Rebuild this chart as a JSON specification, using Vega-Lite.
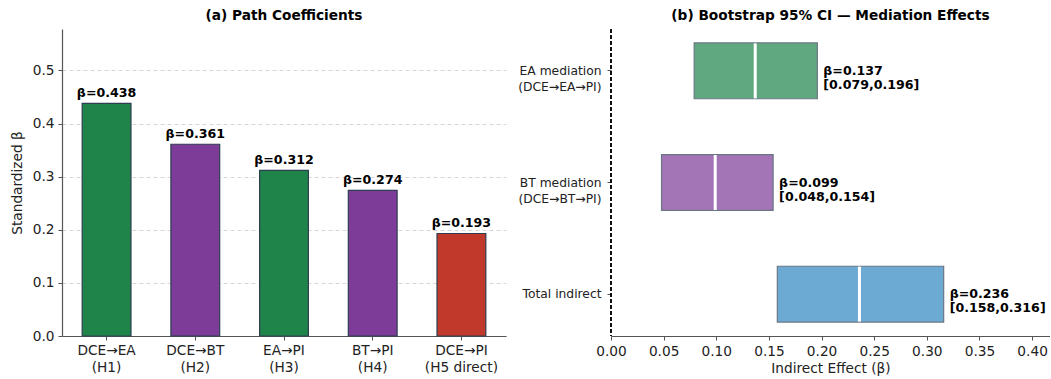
{
  "$schema": "https://vega.github.io/schema/vega-lite/v6.json",
  "background": "white",
  "padding": {"left": 10, "top": 8, "right": 0, "bottom": 0},
  "spacing": 11,
  "resolve": {"scale": {"color": "independent"}},
  "config": {
    "font": "DejaVu Sans",
    "view": {"stroke": null},
    "axis": {
      "labelFont": "DejaVu Sans", "labelFontSize": 13.7, "labelColor": "#222", "labelFlush": false,
      "titleFont": "DejaVu Sans", "titleFontSize": 13.7, "titleFontWeight": "normal", "titleColor": "#222",
      "domainColor": "#555", "domainWidth": 1.2, "tickColor": "#555", "tickSize": 4, "tickWidth": 1, "labelPadding": 4, "grid": false
    },
    "title": {"font": "DejaVu Sans", "fontSize": 13.7, "fontWeight": "bold", "color": "#000", "anchor": "middle", "offset": 6}
  },
  "hconcat": [
    {
      "title": "(a) Path Coefficients",
      "width": 444,
      "height": 307,
      "data": {"values": [
        {"path": "DCE→EA|(H1)", "beta": 0.438, "group": "EA", "lbl": "β=0.438"},
        {"path": "DCE→BT|(H2)", "beta": 0.361, "group": "BT", "lbl": "β=0.361"},
        {"path": "EA→PI|(H3)", "beta": 0.312, "group": "EA", "lbl": "β=0.312"},
        {"path": "BT→PI|(H4)", "beta": 0.274, "group": "BT", "lbl": "β=0.274"},
        {"path": "DCE→PI|(H5 direct)", "beta": 0.193, "group": "Direct", "lbl": "β=0.193"}
      ]},
      "encoding": {
        "x": {"field": "path", "type": "nominal", "sort": null,
          "scale": {"paddingInner": 0.45, "paddingOuter": 0.2275},
          "axis": {"title": null, "labelAngle": 0, "labelExpr": "split(datum.label, '|')", "labelLineHeight": 17, "labelPadding": 3}},
        "y": {"field": "beta", "type": "quantitative",
          "scale": {"domain": [0, 0.578], "nice": false, "zero": true},
          "axis": {"title": "Standardized β", "values": [0, 0.1, 0.2, 0.3, 0.4, 0.5], "format": ".1f",
            "grid": true, "gridDash": [4, 3], "gridColor": "#cccccc", "gridWidth": 0.8, "titlePadding": 8}}
      },
      "layer": [
        {"mark": {"type": "bar", "stroke": "#2c3e50", "strokeWidth": 1.2},
          "encoding": {"color": {"field": "group", "type": "nominal",
            "scale": {"domain": ["EA", "BT", "Direct"], "range": ["#1E8449", "#7D3C98", "#C0392B"]}, "legend": null}}},
        {"mark": {"type": "text", "baseline": "alphabetic", "dy": -6, "fontWeight": "bold", "fontSize": 12.6, "color": "#000"},
          "encoding": {"text": {"field": "lbl"}}}
      ]
    },
    {
      "title": "(b) Bootstrap 95% CI — Mediation Effects",
      "width": 439,
      "height": 307,
      "data": {"values": [
        {"effect": "EA mediation|(DCE→EA→PI)", "est": 0.137, "lo": 0.079, "hi": 0.196, "grp": "EA", "lbl": "β=0.137|[0.079,0.196]"},
        {"effect": "BT mediation|(DCE→BT→PI)", "est": 0.099, "lo": 0.048, "hi": 0.154, "grp": "BT", "lbl": "β=0.099|[0.048,0.154]"},
        {"effect": "Total indirect", "est": 0.236, "lo": 0.158, "hi": 0.316, "grp": "Total", "lbl": "β=0.236|[0.158,0.316]"}
      ]},
      "encoding": {
        "y": {"field": "effect", "type": "nominal", "sort": null,
          "scale": {"paddingInner": 0.5, "paddingOuter": 0.125},
          "axis": {"title": null, "labelExpr": "split(datum.label, '|')", "labelFontSize": 12.3, "labelLineHeight": 16, "labelPadding": 6, "domain": false}}
      },
      "layer": [
        {"mark": {"type": "bar", "opacity": 0.7, "stroke": "#2c3e50", "strokeWidth": 1.2},
          "encoding": {
            "x": {"field": "lo", "type": "quantitative",
              "scale": {"domain": [0, 0.417], "nice": false},
              "axis": {"title": "Indirect Effect (β)", "values": [0, 0.05, 0.1, 0.15, 0.2, 0.25, 0.3, 0.35, 0.4], "format": ".2f", "titlePadding": 4}},
            "x2": {"field": "hi"},
            "color": {"field": "grp", "type": "nominal",
              "scale": {"domain": ["EA", "BT", "Total"], "range": ["#1E8449", "#7D3C98", "#2E86C1"]}, "legend": null}}},
        {"mark": {"type": "tick", "color": "white", "thickness": 3, "size": 55, "opacity": 1},
          "encoding": {"x": {"field": "est", "type": "quantitative"}}},
        {"mark": {"type": "text", "align": "left", "baseline": "middle", "dx": 6, "fontWeight": "bold", "fontSize": 12.6, "color": "#000", "lineBreak": "|", "lineHeight": 14},
          "encoding": {"x": {"field": "hi", "type": "quantitative"}, "text": {"field": "lbl"}}},
        {"mark": {"type": "rule", "strokeDash": [4, 2], "color": "#000", "strokeWidth": 1.2},
          "encoding": {"x": {"datum": 0}, "y": null}}
      ]
    }
  ]
}
